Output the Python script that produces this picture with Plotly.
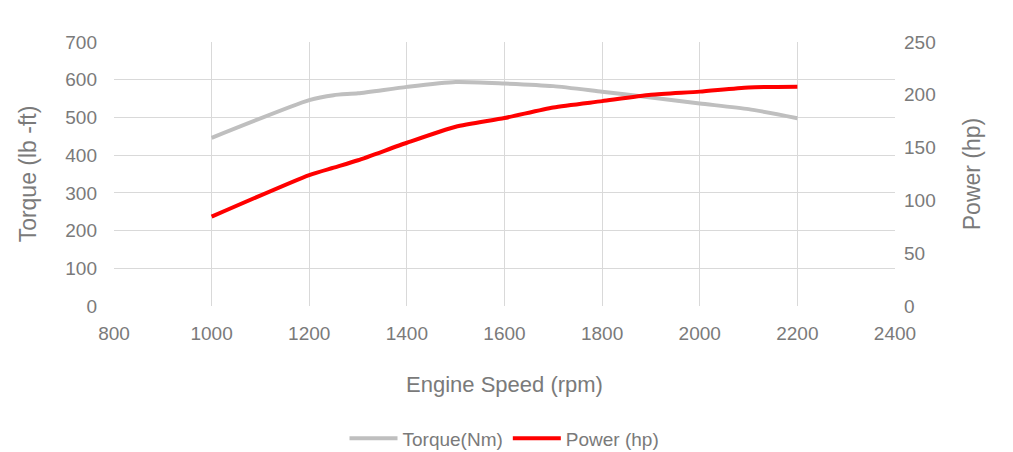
import plotly.graph_objects as go

rpm = [1000, 1200, 1250, 1300, 1400, 1500, 1600, 1700, 1800, 1900, 2000, 2100, 2200]
torque = [446, 546, 559, 564, 581, 594, 590, 583, 568, 553, 537, 522, 498]
power = [84.6, 124, 131, 138, 154.6, 169.8, 178, 188, 194, 200, 203, 207, 207.7]

x_ticks = [800, 1000, 1200, 1400, 1600, 1800, 2000, 2200, 2400]
y_ticks = [0, 100, 200, 300, 400, 500, 600, 700]
y2_ticks = [0, 50, 100, 150, 200, 250]

TXT = "#7a7a7a"
GRID = "#d9d9d9"
FONT = "Liberation Sans, Arial, sans-serif"

fig = go.Figure()
fig.add_trace(go.Scatter(
    x=rpm, y=torque, name="Torque(Nm)", mode="lines",
    line=dict(color="#bfbfbf", width=4, shape="spline", smoothing=0.6),
))
fig.add_trace(go.Scatter(
    x=rpm, y=power, name="Power (hp)", mode="lines", yaxis="y2",
    line=dict(color="#ff0000", width=4, shape="spline", smoothing=0.6),
))

fig.update_layout(
    width=1013, height=452,
    margin=dict(l=106, r=126, t=34, b=154, autoexpand=False),
    paper_bgcolor="white", plot_bgcolor="white",
    font=dict(family=FONT, color=TXT, size=19),
    showlegend=True,
    legend=dict(orientation="h", x=0.5, xanchor="center", y=-0.43, yanchor="top",
                font=dict(size=19, color=TXT), itemwidth=48),
    xaxis=dict(
        range=[800, 2400], tickvals=x_ticks, ticktext=[str(v) for v in x_ticks],
        showgrid=True, gridcolor=GRID, gridwidth=1, zeroline=False,
        showline=False, ticks="", ticklabelstandoff=14, automargin=False,
        title=dict(text="Engine Speed (rpm)", font=dict(size=22, color=TXT), standoff=33),
    ),
    yaxis=dict(
        range=[0, 700], tickvals=y_ticks, ticktext=[str(v) for v in y_ticks],
        showgrid=True, gridcolor=GRID, gridwidth=1, zeroline=False,
        showline=False, ticks="", ticklabelstandoff=16, automargin=False,
        title=dict(text="Torque (lb -ft)", font=dict(size=23, color=TXT), standoff=22),
    ),
    yaxis2=dict(
        range=[0, 250], tickvals=y2_ticks, ticktext=[str(v) for v in y2_ticks],
        overlaying="y", side="right", showgrid=False, zeroline=False,
        showline=False, ticks="", ticklabelstandoff=8, automargin=False,
        title=dict(text="Power (hp)", font=dict(size=23, color=TXT), standoff=29),
    ),
)

fig.write_html("out.html")
